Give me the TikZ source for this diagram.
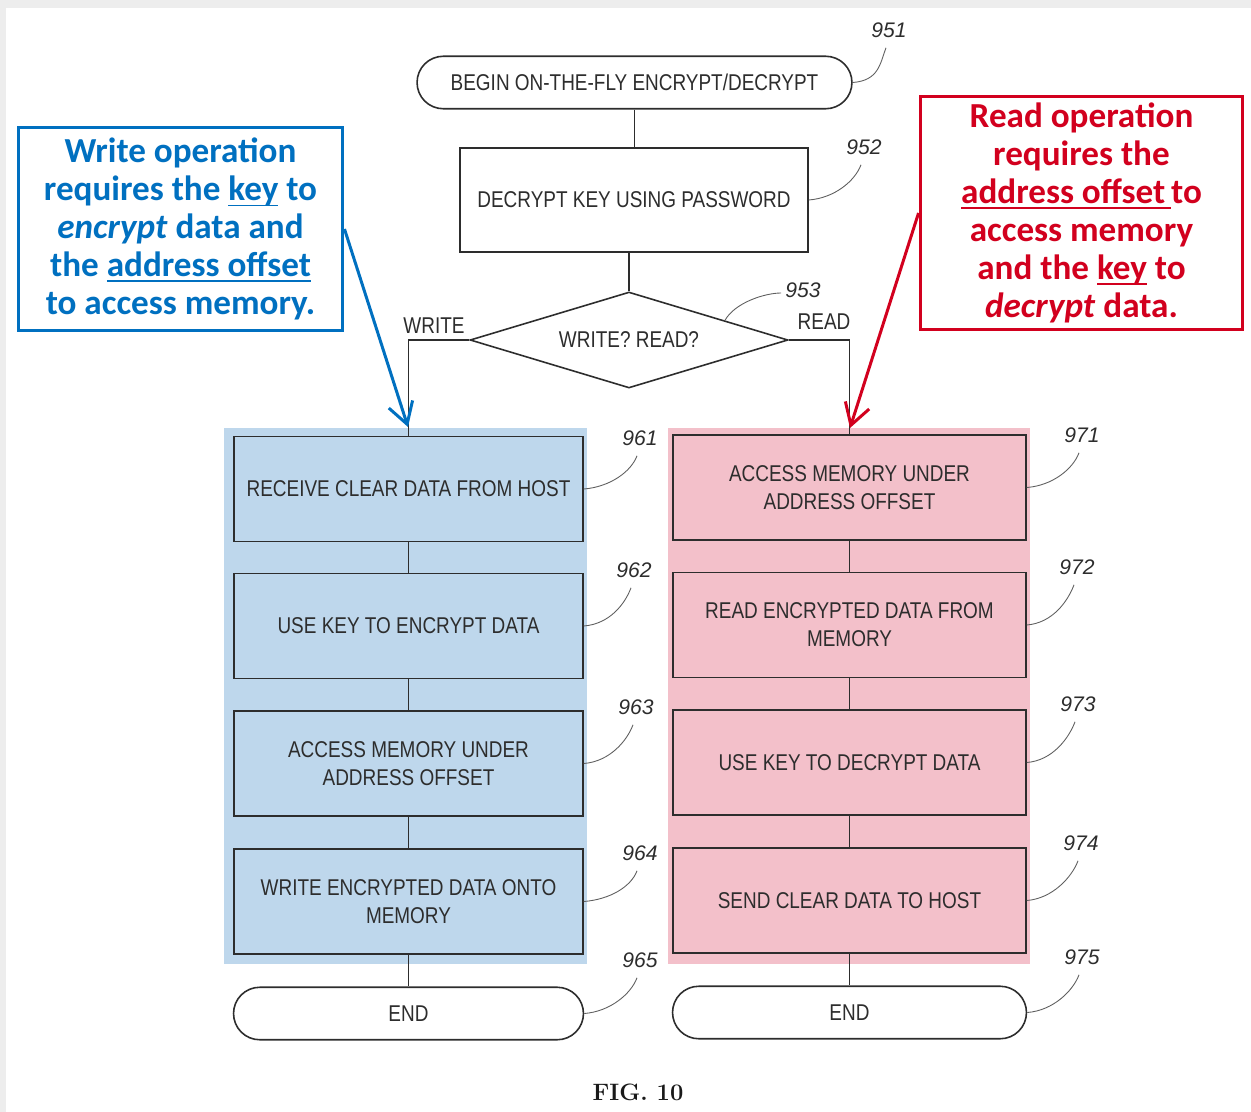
\documentclass[tikz,border=0pt]{standalone}
\usepackage{fontspec}
\usetikzlibrary{shapes.geometric,shapes.misc,arrows.meta,calc}
\newfontfamily\chartfont[FakeStretch=0.83]{Liberation Sans}
\newfontfamily\reffont{Liberation Sans}
\newfontfamily\notefont{Carlito}
\definecolor{ink}{RGB}{45,45,45}
\definecolor{leadgray}{RGB}{95,95,95}
\definecolor{wblue}{RGB}{0,112,192}
\definecolor{rred}{RGB}{210,0,30}
\definecolor{wfill}{RGB}{190,215,236}
\definecolor{rfill}{RGB}{243,192,202}
% underline drawn just below the baseline, in the text colour
\newsavebox\ulbox
\newcommand\ulin[1]{\sbox\ulbox{#1}\rlap{\rule[-0.16em]{\wd\ulbox}{0.05em}}\usebox\ulbox}
\begin{document}
\begin{tikzpicture}[x=0.02cm,y=-0.02cm,
  every node/.style={inner sep=0pt},
  chart/.style={font=\chartfont\fontsize{13}{16}\selectfont, text=ink, align=center},
  stepbox/.style={chart, draw=ink, line width=0.9pt, minimum width=6.98cm, minimum height=2.1cm},
  termbox/.style={chart, draw=ink, line width=0.9pt, rounded rectangle, minimum height=1.05cm},
  flow/.style={draw=ink, line width=0.9pt},
  refnum/.style={font=\reffont\itshape\fontsize{12}{14}\selectfont, text=ink},
  leader/.style={draw=leadgray, line width=0.5pt},
  callout/.style={font=\notefont\bfseries\fontsize{20}{21.6}\selectfont, align=center, line width=1.7pt},
  callarrow/.style={line width=1.7pt, -{Straight Barb[length=0.42cm,width=0.5cm]}}
]
\useasboundingbox (0,0) rectangle (1251,1112);
% page frame
\fill[gray!14] (0,0) rectangle (1251,1112);
\fill[white] (6,8) rectangle (1251,1112);
% highlighted branches
\fill[wfill] (224,428) rectangle (587,964);
\fill[rfill] (668,428) rectangle (1030,964);

% common part
\node[termbox, minimum width=8.7cm] (begin) at (634.5,82.5) {BEGIN ON-THE-FLY ENCRYPT/DECRYPT};
\node[stepbox, minimum width=6.96cm, minimum height=2.08cm] (key) at (634,200) {DECRYPT KEY USING PASSWORD};
\node[chart, draw=ink, line width=0.9pt, diamond, aspect=3.3, minimum width=6.36cm, minimum height=1.92cm] (ask) at (629,340) {WRITE? READ?};
\node[chart] (lw) at (434,326) {WRITE};
\node[chart] (lr) at (824,322) {READ};

% write branch
\node[stepbox] (w1) at (408.5,489) {RECEIVE CLEAR DATA FROM HOST};
\node[stepbox] (w2) at (408.5,626) {USE KEY TO ENCRYPT DATA};
\node[stepbox] (w3) at (408.5,763.5) {ACCESS MEMORY UNDER\\ADDRESS OFFSET};
\node[stepbox] (w4) at (408.5,901.5) {WRITE ENCRYPTED DATA ONTO\\MEMORY};
\node[termbox, minimum width=7cm] (wend) at (408.5,1013.5) {END};

% read branch
\node[stepbox, minimum width=7.06cm] (r1) at (849.5,487.5) {ACCESS MEMORY UNDER\\ADDRESS OFFSET};
\node[stepbox, minimum width=7.06cm] (r2) at (849.5,625) {READ ENCRYPTED DATA FROM\\MEMORY};
\node[stepbox, minimum width=7.06cm] (r3) at (849.5,762.5) {USE KEY TO DECRYPT DATA};
\node[stepbox, minimum width=7.06cm] (r4) at (849.5,900.5) {SEND CLEAR DATA TO HOST};
\node[termbox, minimum width=7.08cm] (rend) at (849.5,1012.5) {END};

% flow lines
\draw[flow] (begin.south) -- (begin.south |- key.north);
\draw[flow] (key.south -| ask.north) -- (ask.north);
\draw[flow] (ask.west) -| (w1.north);
\draw[flow] (ask.east) -| (r1.north);
\foreach \a/\b in {w1/w2,w2/w3,w3/w4,w4/wend,r1/r2,r2/r3,r3/r4,r4/rend}
  \draw[flow] (\a.south) -- (\b.north);

% reference numerals
\node[refnum] (n951) at (889,30) {951};
\node[refnum] (n952) at (864,147) {952};
\node[refnum] (n953) at (803,290) {953};
\node[refnum] (n961) at (640,438) {961};
\node[refnum] (n962) at (634,570) {962};
\node[refnum] (n963) at (636,707) {963};
\node[refnum] (n964) at (640,853) {964};
\node[refnum] (n965) at (640,960) {965};
\node[refnum] (n971) at (1082,435) {971};
\node[refnum] (n972) at (1077,567) {972};
\node[refnum] (n973) at (1078,704) {973};
\node[refnum] (n974) at (1081,843) {974};
\node[refnum] (n975) at (1082,957) {975};

\foreach \b/\n in {begin/n951,key/n952,w1/n961,w2/n962,w3/n963,w4/n964,wend/n965,r1/n971,r2/n972,r3/n973,r4/n974,rend/n975}
  \draw[leader] (\b.east) .. controls +(26,-2) and +(-6,16) .. ($(\n.south)+(-3,10)$);
\draw[leader] ($(ask.north)!0.6!(ask.east)$) .. controls +(10,-18) and +(-16,0) .. ($(n953.west)+(-4,3)$);

% callouts
\node[callout, draw=wblue, text=wblue, minimum width=6.5cm, minimum height=4.08cm] (wnote) at (180.5,229)
  {Write operation\\requires the \ulin{key} to\\\textit{encrypt} data and\\the \ulin{address offset}\\to access memory.};
\node[callout, draw=rred, text=rred, minimum width=6.46cm, minimum height=4.68cm] (rnote) at (1081.5,213)
  {Read operation\\requires the\\\ulin{address offset\,}to\\access memory\\and the \ulin{key} to\\\textit{decrypt} data.};
\coordinate (wtip) at (408,427);
\coordinate (rtip) at (850,428);
\draw[callarrow, wblue] (wnote.east) -- (wtip);
\draw[callarrow, rred] (rnote.west) -- (rtip);

% caption
\node[font=\bfseries\fontsize{13.5}{15}\selectfont, text=black!90] (fig) at (638,1092) {FIG. 10};
\end{tikzpicture}
\end{document}
